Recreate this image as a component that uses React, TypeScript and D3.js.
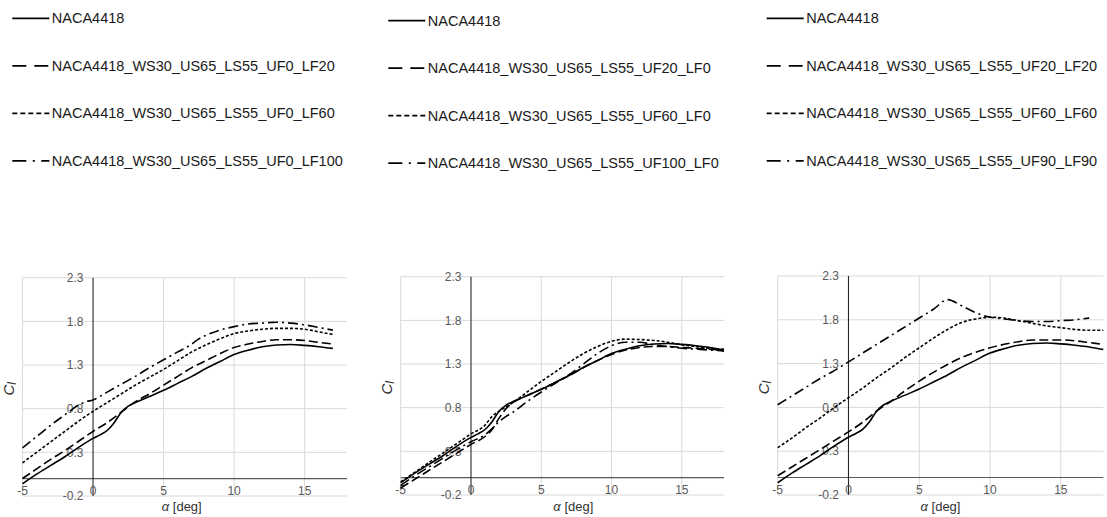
import React from 'react';
import * as d3 from 'd3';

// ---------- data ----------
const xTicks = [-5, 0, 5, 10, 15];
const yTicks = [-0.2, 0.3, 0.8, 1.3, 1.8, 2.3];
const xDomain = [-5, 18];
const yDomain = [-0.2, 2.3];

const naca4418Alpha = [-5, -4, -3, -2, -1, 0, 0.5, 1, 1.5, 2, 2.5, 3, 4, 5, 6, 7, 8, 9, 10, 11, 12, 13, 14, 15, 16, 17, 18];
const naca4418Cl = [-0.06, 0.05, 0.15, 0.25, 0.36, 0.46, 0.5, 0.55, 0.64, 0.76, 0.83, 0.87, 0.94, 1.01, 1.09, 1.17, 1.26, 1.34, 1.42, 1.47, 1.51, 1.53, 1.535, 1.525, 1.51, 1.49, 1.46];

// panel 1 (lower flap)
const p1Alpha = [-5, -4, -3, -2, -1, 0, 1, 2, 3, 4, 5, 6, 7, 8, 9, 10, 11, 12, 13, 14, 15, 16, 17];
const p1Lf20 = [0.0, 0.11, 0.22, 0.32, 0.43, 0.54, 0.64, 0.76, 0.88, 0.97, 1.07, 1.17, 1.27, 1.35, 1.43, 1.5, 1.54, 1.57, 1.59, 1.59, 1.58, 1.56, 1.54];
const p1Lf60 = [0.18, 0.3, 0.42, 0.54, 0.66, 0.77, 0.87, 0.97, 1.07, 1.16, 1.25, 1.35, 1.45, 1.53, 1.6, 1.66, 1.69, 1.71, 1.72, 1.72, 1.71, 1.68, 1.65];
const p1Lf100Alpha = [-5, -4, -3, -2, -1.5, -1, -0.5, 0, 1, 2, 3, 4, 5, 6, 7, 7.5, 8, 9, 10, 11, 12, 13, 14, 15, 16, 17];
const p1Lf100 = [0.35, 0.48, 0.61, 0.73, 0.79, 0.845, 0.88, 0.9, 0.99, 1.08, 1.17, 1.27, 1.36, 1.45, 1.54, 1.6, 1.64, 1.7, 1.74, 1.77, 1.78, 1.79, 1.78, 1.76, 1.73, 1.7];

// panel 2 (upper flap)
const p2Alpha = [-5, -4, -3, -2, -1, 0, 1, 1.5, 2, 2.5, 3, 4, 5, 6, 7, 8, 9, 10, 11, 12, 13, 14, 15, 16, 17, 18];
const p2Uf20 = [-0.12, -0.02, 0.08, 0.18, 0.28, 0.38, 0.47, 0.55, 0.68, 0.79, 0.86, 0.94, 1.01, 1.09, 1.17, 1.26, 1.34, 1.41, 1.46, 1.49, 1.5, 1.5, 1.49, 1.48, 1.47, 1.45];
const p2Uf60 = [-0.05, 0.06, 0.17, 0.28, 0.39, 0.5, 0.6, 0.7, 0.76, 0.81, 0.86, 0.98, 1.1, 1.21, 1.32, 1.42, 1.5, 1.56, 1.585, 1.58, 1.57, 1.55, 1.52, 1.5, 1.48, 1.47];
const p2Uf100 = [-0.09, 0.02, 0.12, 0.22, 0.32, 0.41, 0.49, 0.56, 0.64, 0.7, 0.75, 0.87, 0.98, 1.08, 1.18, 1.3, 1.42, 1.51, 1.55, 1.55, 1.52, 1.5, 1.48, 1.47, 1.46, 1.45];

// panel 3 (both flaps)
const p3Alpha = [-5, -4, -3, -2, -1, 0, 1, 2, 3, 4, 5, 6, 7, 8, 9, 10, 11, 12, 13, 14, 15, 16, 17, 18];
const p3F20 = [0.02, 0.12, 0.22, 0.32, 0.42, 0.52, 0.63, 0.76, 0.87, 0.99, 1.1, 1.2, 1.29, 1.37, 1.43, 1.48, 1.52, 1.55, 1.57, 1.57, 1.57, 1.56, 1.54, 1.52];
const p3F60 = [0.34, 0.45, 0.57, 0.68, 0.8, 0.91, 1.02, 1.14, 1.25, 1.37, 1.48, 1.59, 1.69, 1.77, 1.81, 1.83, 1.82, 1.79, 1.76, 1.73, 1.71, 1.69, 1.68, 1.68];
const p3F90Alpha = [-5, -4, -3, -2, -1, 0, 1, 2, 3, 4, 5, 6, 7, 8, 9, 10, 11, 12, 13, 14, 15, 16, 17];
const p3F90 = [0.83, 0.93, 1.03, 1.13, 1.22, 1.32, 1.42, 1.52, 1.62, 1.72, 1.82, 1.92, 2.03, 1.96, 1.88, 1.83, 1.81, 1.79, 1.78, 1.78, 1.79, 1.8, 1.82];

const p1Labels = ['NACA4418', 'NACA4418_WS30_US65_LS55_UF0_LF20', 'NACA4418_WS30_US65_LS55_UF0_LF60', 'NACA4418_WS30_US65_LS55_UF0_LF100'];
const p2Labels = ['NACA4418', 'NACA4418_WS30_US65_LS55_UF20_LF0', 'NACA4418_WS30_US65_LS55_UF60_LF0', 'NACA4418_WS30_US65_LS55_UF100_LF0'];
const p3Labels = ['NACA4418', 'NACA4418_WS30_US65_LS55_UF20_LF20', 'NACA4418_WS30_US65_LS55_UF60_LF60', 'NACA4418_WS30_US65_LS55_UF90_LF90'];

// ---------- styles ----------
const plotDash = ['none', '9 4', '3 2', '10 4 2 4'];
const legendDash = ['none', '14 8', '5 3', '14 6.5 2 6.5'];
const FONT = '"Liberation Sans", Arial, Helvetica, sans-serif';

type Series = { alpha: number[]; cl: number[]; end: number };

const panels = [
  {
    left: 22.5, right: 347, top: 277.7, bottom: 496,
    legX: 12.3, legY: 18.3, titleDx: -3,
    labels: p1Labels,
    series: [
      { alpha: naca4418Alpha, cl: naca4418Cl, end: 17 },
      { alpha: p1Alpha, cl: p1Lf20, end: 17 },
      { alpha: p1Alpha, cl: p1Lf60, end: 17 },
      { alpha: p1Lf100Alpha, cl: p1Lf100, end: 17 },
    ] as Series[],
  },
  {
    left: 400.7, right: 724, top: 276.7, bottom: 495,
    legX: 388.3, legY: 20.7, titleDx: 11,
    labels: p2Labels,
    series: [
      { alpha: naca4418Alpha, cl: naca4418Cl, end: 18 },
      { alpha: p2Alpha, cl: p2Uf20, end: 18 },
      { alpha: p2Alpha, cl: p2Uf60, end: 18 },
      { alpha: p2Alpha, cl: p2Uf100, end: 18 },
    ] as Series[],
  },
  {
    left: 777.7, right: 1103.3, top: 276, bottom: 495,
    legX: 766.7, legY: 18.3, titleDx: 0,
    labels: p3Labels,
    series: [
      { alpha: naca4418Alpha, cl: naca4418Cl, end: 18 },
      { alpha: p3Alpha, cl: p3F20, end: 18 },
      { alpha: p3Alpha, cl: p3F60, end: 18 },
      { alpha: p3F90Alpha, cl: p3F90, end: 17 },
    ] as Series[],
  },
];

function Panel({ p }: { p: (typeof panels)[number] }) {
  const x = d3.scaleLinear().domain(xDomain).range([p.left, p.right]);
  const y = d3.scaleLinear().domain(yDomain).range([p.bottom, p.top]);
  const line = d3
    .line<[number, number]>()
    .x((d) => x(d[0]))
    .y((d) => y(d[1]))
    .curve(d3.curveMonotoneX);
  const x0 = x(0);
  const y0 = y(0);
  const rowGap = 47.5;
  return (
    <g>
      {/* legend */}
      {p.labels.map((lab, i) => {
        const ly = p.legY + i * rowGap;
        return (
          <g key={lab}>
            <line x1={p.legX} x2={p.legX + 37} y1={ly} y2={ly} stroke="#000" strokeWidth={1.8}
              strokeDasharray={legendDash[i]} />
            <text x={p.legX + 39.5} y={ly + 5.1} fontSize={14.5} fill="#1a1a1a" fontFamily={FONT}>{lab}</text>
          </g>
        );
      })}
      {/* grid */}
      {yTicks.map((t) => (
        <line key={'gy' + t} x1={p.left} x2={p.right} y1={y(t)} y2={y(t)} stroke="#d9d9d9" strokeWidth={1} />
      ))}
      {xTicks.filter((t) => t !== 0).map((t) => (
        <line key={'gx' + t} x1={x(t)} x2={x(t)} y1={p.top} y2={p.bottom} stroke="#d9d9d9" strokeWidth={1} />
      ))}
      {/* axes */}
      <line x1={p.left} x2={p.right} y1={y0} y2={y0} stroke="#595959" strokeWidth={1.2} />
      <line x1={x0} x2={x0} y1={p.top} y2={p.bottom} stroke="#262626" strokeWidth={1.1} />
      {/* tick labels */}
      {yTicks.map((t) => (
        <text key={'ty' + t} x={x0 - 9.5} y={y(t) + 4.2} fontSize={12} fill="#595959" textAnchor="end" fontFamily={FONT}>
          {t.toFixed(1)}
        </text>
      ))}
      {xTicks.map((t) => (
        <text key={'tx' + t} x={x(t)} y={y0 + 16.5} fontSize={12} fill="#595959" textAnchor="middle" fontFamily={FONT}>
          {t}
        </text>
      ))}
      {/* series */}
      {p.series.map((s, i) => {
        const pts = s.alpha.map((a, k) => [a, s.cl[k]] as [number, number]).filter((d) => d[0] <= s.end);
        return (
          <path key={'s' + i} d={line(pts) || ''} fill="none" stroke="#000" strokeWidth={1.6}
            strokeDasharray={plotDash[i]} />
        );
      })}
      {/* axis titles */}
      <text
        transform={`translate(${p.left - 8.5},${(p.top + p.bottom) / 2 + 2}) rotate(-90)`}
        textAnchor="middle" fontSize={15} fill="#333" fontFamily={FONT}
      >
        <tspan fontStyle="italic">C</tspan>
        <tspan fontStyle="italic" fontSize={12} dy={2}>l</tspan>
      </text>
      <text x={(p.left + p.right) / 2 + p.titleDx} y={511} textAnchor="middle" fontSize={13} fill="#333" fontFamily={FONT}>
        <tspan fontStyle="italic">α</tspan>
        <tspan> [deg]</tspan>
      </text>
    </g>
  );
}

export default function App() {
  return (
    <svg width={1107} height={517} style={{ position: 'absolute', left: 0, top: 0, background: '#fff' }}>
      <rect width={1107} height={517} fill="#fff" />
      {panels.map((p, i) => (
        <Panel key={i} p={p} />
      ))}
    </svg>
  );
}
